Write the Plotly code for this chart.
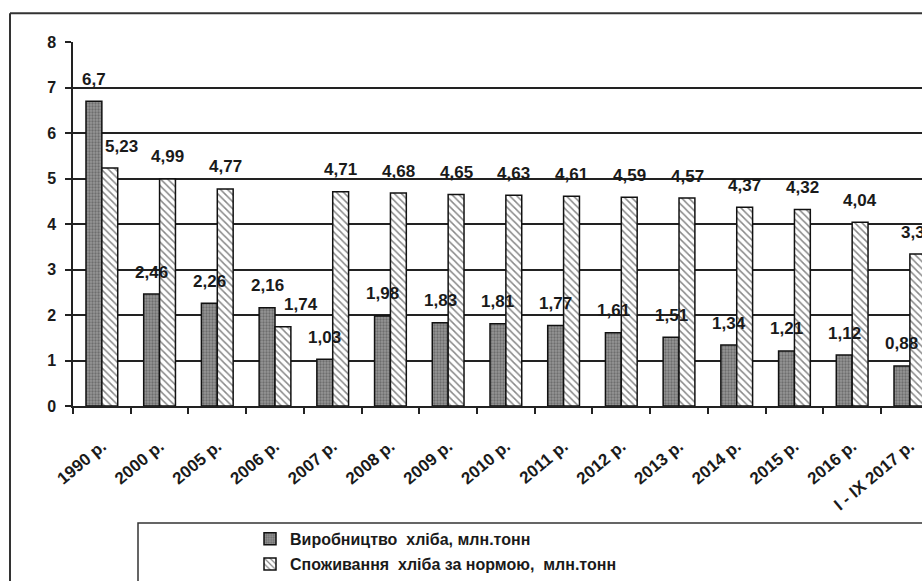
import plotly.graph_objects as go

# Bread production vs. normative consumption, million tonnes
years = ["1990 р.", "2000 р.", "2005 р.", "2006 р.", "2007 р.", "2008 р.", "2009 р.",
         "2010 р.", "2011 р.", "2012 р.", "2013 р.", "2014 р.", "2015 р.", "2016 р.",
         "I - IX 2017 р."]
production = [6.7, 2.46, 2.26, 2.16, 1.03, 1.98, 1.83, 1.81, 1.77, 1.61, 1.51, 1.34, 1.21, 1.12, 0.88]
consumption = [5.23, 4.99, 4.77, 1.74, 4.71, 4.68, 4.65, 4.63, 4.61, 4.59, 4.57, 4.37, 4.32, 4.04, 3.34]

name_prod = "Виробництво  хліба, млн.тонн"
name_cons = "Споживання  хліба за нормою,  млн.тонн"

FONT = "Liberation Sans, Arial, sans-serif"
W, H = 922, 581
L, T, B = 73, 42, 172
PW = W - L
PH = H - T - B


def px_x(v):
    return (v - L) / PW


def px_y(v):
    return (H - B - v) / PH


def fmt(v):
    return f"{v:g}".replace(".", ",")


fig = go.Figure()
fig.add_trace(go.Bar(
    x=years, y=production, name=name_prod, legend="legend",
    marker=dict(color="#8f8f8f", line=dict(color="#111", width=1.5),
                pattern=dict(shape=".", fgcolor="#444", bgcolor="#969696", size=3, solidity=0.45)),
))
fig.add_trace(go.Bar(
    x=years, y=consumption, name=name_cons, legend="legend2",
    marker=dict(color="white", line=dict(color="#111", width=1.5),
                pattern=dict(shape="\\", fgcolor="#111", bgcolor="white", size=5, solidity=0.3)),
))

# value labels above each bar
label_font = dict(family=FONT, size=17, color="#1a1a1a", weight="bold")
extra_shift = {(1, 0): 12, (1, 3): 18}
for s, vals in enumerate([production, consumption]):
    for i, (cat, v) in enumerate(zip(years, vals)):
        fig.add_annotation(
            x=cat, y=v, text=fmt(v), showarrow=False, font=label_font,
            xshift=(-8 if s == 0 else 8) + extra_shift.get((s, i), 0), yshift=22,
        )

# outer frame (left and top edges) and legend box
fig.add_shape(type="line", xref="paper", yref="paper",
              x0=px_x(10), x1=px_x(930), y0=px_y(13), y1=px_y(13),
              line=dict(color="#333", width=2))
fig.add_shape(type="line", xref="paper", yref="paper",
              x0=px_x(10), x1=px_x(10), y0=px_y(13), y1=px_y(600),
              line=dict(color="#333", width=2))
fig.add_shape(type="rect", xref="paper", yref="paper",
              x0=px_x(138), x1=px_x(940), y0=px_y(527), y1=px_y(620),
              line=dict(color="#333", width=1.5))

legend_style = dict(font=dict(family=FONT, size=16, color="#1a1a1a", weight="bold"),
                    bgcolor="rgba(0,0,0,0)", borderwidth=0,
                    xanchor="left", yanchor="middle", itemwidth=30)
fig.update_layout(
    width=W, height=H,
    margin=dict(l=L, r=0, t=T, b=B),
    paper_bgcolor="white", plot_bgcolor="white",
    barmode="group", bargap=0.45, bargroupgap=0,
    showlegend=True,
    legend=dict(x=px_x(250), y=px_y(543), **legend_style),
    legend2=dict(x=px_x(250), y=px_y(569), **legend_style),
    font=dict(family=FONT, color="#1a1a1a"),
)
fig.update_yaxes(
    range=[0, 8], dtick=1, showgrid=True, gridcolor="#222", gridwidth=1.5,
    showline=True, linecolor="#222", linewidth=1.5, ticks="outside", ticklen=6,
    tickcolor="#222", tickwidth=1.5, zeroline=False, ticklabelstandoff=6,
    tickfont=dict(family=FONT, size=16, color="#1a1a1a", weight="bold"),
)
fig.update_xaxes(
    range=[-0.5, 14.21], tickangle=-40, showline=True, linecolor="#222", linewidth=1.5,
    ticks="outside", tickson="boundaries", ticklen=6, tickcolor="#222", tickwidth=1.5,
    ticklabelstandoff=22,
    tickfont=dict(family=FONT, size=17, color="#1a1a1a", weight="bold"),
)

fig.write_html("out.html")
